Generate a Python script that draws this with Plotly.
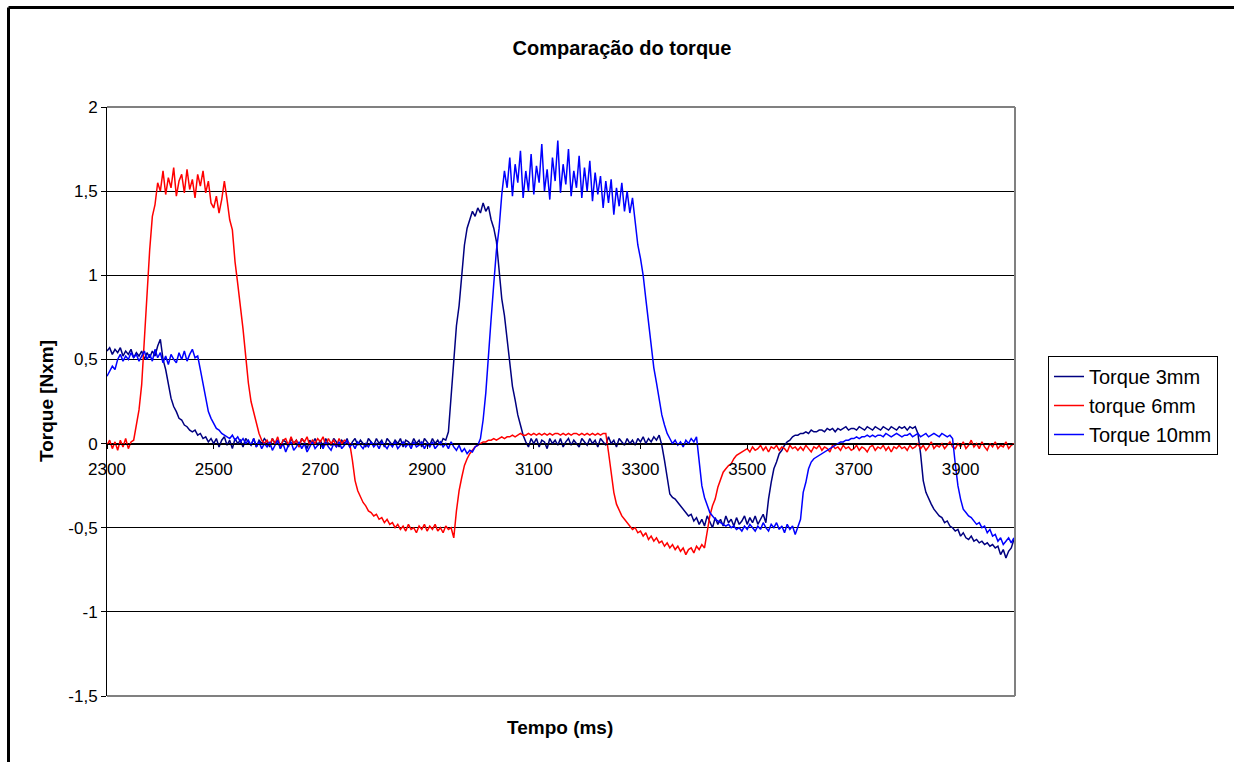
import plotly.graph_objects as go

# ---------------- data ----------------
TIME_MS = list(range(2300, 4001, 5))  # sampling grid, ms

TORQUE_3MM = [
    0.55, 0.57, 0.53, 0.56, 0.54, 0.57, 0.52, 0.55, 0.53, 0.56, 0.51, 0.54, 0.52, 0.55, 0.50, 0.54, 0.51, 0.55, 0.52, 0.58,
    0.62, 0.50, 0.44, 0.36, 0.27, 0.22, 0.19, 0.15, 0.14, 0.11, 0.10, 0.08, 0.07, 0.08, 0.05, 0.06, 0.03, 0.04, 0.01, 0.03,
    0.00, 0.03, -0.02, 0.02, 0.04, -0.01, 0.02, -0.03, 0.03, 0.00, 0.02, -0.02, 0.03, 0.01, -0.01, 0.03, -0.02, 0.02, 0.00, 0.03,
    0.01, -0.02, 0.03, 0.00, 0.02, -0.03, 0.02, 0.01, -0.02, 0.03, 0.00, 0.02, -0.02, 0.03, 0.01, -0.03, 0.02, 0.00, 0.03, -0.01,
    0.02, -0.02, 0.03, 0.00, -0.01, 0.03, 0.01, -0.02, 0.02, 0.00, 0.03, -0.02, 0.01, 0.03, -0.01, 0.02, 0.00, -0.02, 0.03, 0.01,
    -0.01, 0.03, 0.00, 0.02, -0.02, 0.03, 0.01, -0.01, 0.02, 0.00, 0.03, -0.02, 0.02, 0.01, -0.01, 0.03, 0.00, 0.02, -0.02, 0.03,
    0.01, -0.01, 0.03, 0.00, 0.02, -0.01, 0.03, 0.02, 0.07, 0.30, 0.52, 0.70, 0.82, 1.01, 1.18, 1.28, 1.33, 1.38, 1.35, 1.40,
    1.37, 1.43, 1.38, 1.41, 1.33, 1.28, 1.20, 1.02, 0.86, 0.76, 0.63, 0.48, 0.34, 0.26, 0.17, 0.11, 0.05, 0.01, -0.02, 0.03,
    0.00, 0.03, -0.02, 0.02, 0.01, -0.03, 0.03, 0.00, 0.02, -0.01, 0.03, -0.02, 0.01, 0.03, -0.01, 0.02, 0.00, -0.02, 0.03, 0.01,
    -0.01, 0.03, 0.00, 0.02, -0.02, 0.03, 0.01, -0.01, 0.04, 0.00, 0.02, -0.02, 0.03, 0.01, -0.01, 0.03, 0.00, 0.02, -0.01, 0.03,
    0.01, 0.04, 0.00, 0.03, 0.01, 0.04, 0.02, 0.05, -0.01, -0.10, -0.20, -0.30, -0.32, -0.33, -0.35, -0.37, -0.39, -0.41, -0.43, -0.42,
    -0.46, -0.44, -0.48, -0.45, -0.49, -0.43, -0.47, -0.50, -0.44, -0.48, -0.45, -0.49, -0.43, -0.47, -0.45, -0.49, -0.44, -0.48, -0.46, -0.43,
    -0.48, -0.44, -0.47, -0.43, -0.48, -0.45, -0.42, -0.47, -0.33, -0.23, -0.15, -0.11, -0.06, -0.04, -0.01, 0.01, 0.02, 0.04, 0.05, 0.05,
    0.06, 0.06, 0.07, 0.06, 0.08, 0.07, 0.07, 0.08, 0.08, 0.07, 0.09, 0.08, 0.09, 0.07, 0.09, 0.08, 0.09, 0.10, 0.08, 0.09,
    0.09, 0.08, 0.10, 0.09, 0.08, 0.10, 0.09, 0.08, 0.10, 0.09, 0.08, 0.10, 0.09, 0.08, 0.10, 0.09, 0.08, 0.10, 0.09, 0.10,
    0.08, 0.10, 0.09, 0.10, 0.06, -0.06, -0.22, -0.29, -0.33, -0.36, -0.39, -0.41, -0.43, -0.44, -0.47, -0.46, -0.49, -0.50, -0.52, -0.51,
    -0.55, -0.53, -0.56, -0.57, -0.55, -0.58, -0.57, -0.59, -0.58, -0.60, -0.59, -0.61, -0.60, -0.62, -0.61, -0.66, -0.63, -0.68, -0.64, -0.62,
    -0.57,
]

TORQUE_6MM = [
    -0.01, 0.02, -0.03, 0.01, -0.04, 0.02, -0.02, 0.03, -0.03, 0.01, 0.02, 0.10, 0.20, 0.35, 0.62, 0.90, 1.15, 1.35, 1.42, 1.55,
    1.50, 1.62, 1.48, 1.58, 1.52, 1.64, 1.47, 1.56, 1.60, 1.49, 1.63, 1.51, 1.57, 1.46, 1.60, 1.53, 1.62, 1.49, 1.56, 1.43,
    1.40, 1.47, 1.37, 1.45, 1.56, 1.45, 1.33, 1.27, 1.08, 0.95, 0.83, 0.68, 0.52, 0.36, 0.25, 0.19, 0.12, 0.06, 0.02, 0.00,
    0.02, -0.01, 0.03, 0.00, 0.04, -0.02, 0.02, 0.03, -0.01, 0.04, 0.00, 0.02, -0.02, 0.03, 0.01, 0.04, -0.01, 0.02, 0.00, 0.03,
    0.01, 0.04, -0.01, 0.03, 0.00, 0.02, -0.02, 0.03, 0.00, 0.02, 0.01, 0.00, -0.10, -0.22, -0.28, -0.32, -0.35, -0.37, -0.40, -0.41,
    -0.43, -0.42, -0.45, -0.44, -0.47, -0.45, -0.48, -0.47, -0.50, -0.48, -0.51, -0.49, -0.52, -0.48, -0.51, -0.50, -0.53, -0.49, -0.51, -0.48,
    -0.52, -0.49, -0.51, -0.48, -0.52, -0.50, -0.53, -0.49, -0.51, -0.50, -0.56, -0.40, -0.28, -0.20, -0.13, -0.09, -0.06, -0.04, -0.02, -0.01,
    0.00, 0.01, 0.01, 0.02, 0.02, 0.03, 0.02, 0.03, 0.04, 0.03, 0.04, 0.04, 0.05, 0.04, 0.05, 0.06, 0.05, 0.05, 0.06, 0.05,
    0.06, 0.05, 0.06, 0.05, 0.06, 0.05, 0.06, 0.05, 0.06, 0.06, 0.05, 0.06, 0.05, 0.06, 0.05, 0.06, 0.06, 0.05, 0.06, 0.05,
    0.06, 0.05, 0.06, 0.05, 0.06, 0.05, 0.06, 0.06, -0.05, -0.18, -0.29, -0.36, -0.40, -0.43, -0.45, -0.47, -0.49, -0.51, -0.50, -0.53,
    -0.52, -0.55, -0.53, -0.57, -0.55, -0.58, -0.56, -0.59, -0.58, -0.61, -0.59, -0.62, -0.60, -0.63, -0.61, -0.64, -0.62, -0.66, -0.63, -0.62,
    -0.65, -0.61, -0.63, -0.60, -0.62, -0.52, -0.43, -0.37, -0.33, -0.26, -0.21, -0.17, -0.15, -0.13, -0.12, -0.09, -0.07, -0.06, -0.05, -0.04,
    -0.03, -0.05, -0.02, -0.04, -0.03, -0.01, -0.04, -0.02, -0.05, -0.02, -0.03, -0.01, -0.04, -0.02, -0.03, -0.05, -0.01, -0.03, -0.02, -0.04,
    -0.02, -0.04, -0.01, -0.03, -0.05, -0.02, -0.03, -0.01, -0.04, -0.02, -0.03, -0.05, -0.01, -0.03, -0.02, -0.04, -0.01, -0.03, -0.02, -0.04,
    -0.03, -0.01, -0.04, -0.02, -0.03, -0.05, -0.02, -0.01, -0.04, -0.02, -0.03, -0.01, -0.04, -0.02, -0.05, -0.02, -0.03, -0.01, -0.03, -0.02,
    -0.04, -0.01, -0.03, -0.02, 0.00, -0.03, -0.01, -0.04, -0.02, 0.01, -0.03, -0.01, -0.02, 0.00, -0.03, -0.01, 0.01, -0.02, -0.03, 0.00,
    -0.02, 0.01, -0.03, -0.01, 0.02, -0.02, 0.00, -0.03, 0.01, -0.02, -0.04, 0.00, -0.02, 0.01, -0.03, -0.01, -0.02, 0.01, -0.03, -0.01,
    0.00,
]

TORQUE_10MM = [
    0.40, 0.43, 0.46, 0.44, 0.50, 0.53, 0.49, 0.52, 0.50, 0.54, 0.51, 0.53, 0.49, 0.52, 0.55, 0.50, 0.53, 0.49, 0.56, 0.51,
    0.54, 0.48, 0.52, 0.47, 0.53, 0.50, 0.48, 0.54, 0.50, 0.55, 0.49, 0.53, 0.56, 0.51, 0.52, 0.44, 0.36, 0.26, 0.19, 0.15,
    0.12, 0.09, 0.08, 0.06, 0.05, 0.04, 0.03, 0.05, 0.02, 0.04, 0.01, 0.03, 0.00, 0.02, -0.01, 0.03, -0.02, 0.01, -0.03, 0.00,
    -0.02, 0.01, -0.04, -0.01, 0.02, -0.03, 0.00, -0.05, -0.01, 0.01, -0.04, -0.02, 0.01, -0.03, 0.00, -0.05, -0.02, 0.01, -0.03, -0.01,
    0.00, -0.03, 0.01, -0.02, -0.04, 0.00, -0.02, 0.01, -0.03, -0.01, 0.02, -0.02, 0.00, -0.03, 0.01, -0.01, -0.03, 0.00, -0.02, 0.01,
    -0.02, 0.00, -0.03, 0.01, -0.01, -0.03, 0.00, -0.02, 0.01, -0.03, -0.01, 0.01, -0.02, 0.00, -0.03, 0.01, -0.02, -0.01, 0.01, -0.03,
    0.00, -0.02, 0.01, -0.03, -0.01, 0.01, -0.02, 0.00, -0.03, 0.01, -0.02, -0.04, -0.01, -0.05, -0.03, -0.06, -0.04, -0.05, -0.02, -0.01,
    0.03, 0.14, 0.30, 0.55, 0.74, 0.95, 1.15, 1.28, 1.48, 1.62, 1.52, 1.70, 1.47, 1.66, 1.55, 1.74, 1.46, 1.62, 1.50, 1.72,
    1.48, 1.65, 1.55, 1.78, 1.50, 1.63, 1.45, 1.70, 1.56, 1.80, 1.49, 1.66, 1.54, 1.75, 1.47, 1.62, 1.52, 1.71, 1.46, 1.64,
    1.50, 1.68, 1.44, 1.61, 1.48, 1.59, 1.40, 1.56, 1.43, 1.57, 1.36, 1.52, 1.41, 1.55, 1.38, 1.50, 1.37, 1.46, 1.33, 1.18,
    1.10, 1.00, 0.86, 0.72, 0.57, 0.45, 0.36, 0.26, 0.17, 0.11, 0.06, 0.03, 0.00, 0.02, -0.01, 0.01, -0.02, 0.02, 0.00, 0.03,
    0.01, 0.04, -0.10, -0.25, -0.32, -0.37, -0.41, -0.43, -0.45, -0.46, -0.47, -0.48, -0.49, -0.48, -0.50, -0.49, -0.51, -0.50, -0.52, -0.49,
    -0.51, -0.48, -0.50, -0.52, -0.49, -0.51, -0.47, -0.50, -0.52, -0.48, -0.50, -0.47, -0.51, -0.49, -0.53, -0.48, -0.51, -0.49, -0.54, -0.50,
    -0.45, -0.29, -0.23, -0.15, -0.11, -0.09, -0.08, -0.07, -0.06, -0.05, -0.04, -0.03, -0.02, -0.01, 0.00, 0.01, 0.01, 0.02, 0.02, 0.03,
    0.03, 0.04, 0.03, 0.04, 0.04, 0.05, 0.04, 0.05, 0.04, 0.05, 0.05, 0.04, 0.06, 0.05, 0.04, 0.05, 0.06, 0.05, 0.04, 0.05,
    0.05, 0.06, 0.04, 0.05, 0.06, 0.04, 0.05, 0.06, 0.04, 0.05, 0.06, 0.05, 0.04, 0.06, 0.05, 0.04, 0.05, 0.03, -0.12, -0.25,
    -0.33, -0.39, -0.41, -0.43, -0.44, -0.46, -0.48, -0.47, -0.50, -0.49, -0.53, -0.51, -0.55, -0.54, -0.58, -0.56, -0.60, -0.58, -0.56, -0.59,
    -0.56,
]

SERIES_NAMES = ["Torque 3mm", "torque 6mm", "Torque 10mm"]
SERIES_COLORS = ["#000080", "#FF0000", "#0000FF"]

X_TICKS = [2300, 2500, 2700, 2900, 3100, 3300, 3500, 3700, 3900]
Y_TICKS = [-1.5, -1.0, -0.5, 0.0, 0.5, 1.0, 1.5, 2.0]
Y_TICK_TEXT = ["-1,5", "-1", "-0,5", "0", "0,5", "1", "1,5", "2"]

TITLE = "Comparação do torque"
X_TITLE = "Tempo (ms)"
Y_TITLE = "Torque [Nxm]"

# ---------------- figure ----------------
FONT = "Arial, 'Liberation Sans', sans-serif"
W, H = 1234, 762
L, R, T, B = 107, 219, 107, 66
PW, PH = W - L - R, H - T - B


def px_x(px):
    return (px - L) / PW


def px_y(py):
    return (H - B - py) / PH


fig = go.Figure()
for name, color, vals in zip(SERIES_NAMES, SERIES_COLORS,
                             [TORQUE_3MM, TORQUE_6MM, TORQUE_10MM]):
    fig.add_trace(go.Scatter(x=TIME_MS, y=vals, mode="lines", name=name,
                             line=dict(color=color, width=1.5)))

y0_pos = (0 - Y_TICKS[0]) / (Y_TICKS[-1] - Y_TICKS[0])

fig.update_layout(
    width=W, height=H,
    margin=dict(l=L, r=R, t=T, b=B, pad=0),
    paper_bgcolor="white", plot_bgcolor="white",
    font=dict(family=FONT, color="black", size=17),
    title=dict(text="<b>" + TITLE + "</b>", x=622 / W, xanchor="center",
               y=1 - 48 / H, yanchor="middle",
               font=dict(family=FONT, size=20, color="black")),
    showlegend=True,
    legend=dict(x=px_x(1048), y=px_y(356), xanchor="left", yanchor="top",
                bgcolor="white", bordercolor="black", borderwidth=1,
                font=dict(family=FONT, size=20, color="black"),
                itemwidth=30, tracegroupgap=0),
    xaxis=dict(range=[2300, 4002], tickmode="array", tickvals=X_TICKS,
               ticktext=[str(v) for v in X_TICKS],
               anchor="free", position=y0_pos,
               showline=True, linecolor="black", linewidth=1,
               ticks="outside", ticklen=4, tickcolor="black",
               showgrid=False, zeroline=False,
               ticklabelstandoff=6,
               tickfont=dict(family=FONT, size=17, color="black")),
    yaxis=dict(range=[Y_TICKS[0], Y_TICKS[-1]], tickmode="array",
               tickvals=Y_TICKS, ticktext=Y_TICK_TEXT,
               showline=True, linecolor="black", linewidth=1,
               ticks="outside", ticklen=5, tickcolor="black",
               showgrid=True, gridcolor="black", gridwidth=1,
               zeroline=False,
               tickfont=dict(family=FONT, size=17, color="black")),
    annotations=[
        dict(text="<b>" + X_TITLE + "</b>", xref="paper", yref="paper",
             x=px_x(560), y=px_y(727), xanchor="center", yanchor="middle",
             showarrow=False, font=dict(family=FONT, size=19, color="black")),
        dict(text="<b>" + Y_TITLE + "</b>", xref="paper", yref="paper",
             x=px_x(46), y=px_y(401), xanchor="center", yanchor="middle",
             textangle=-90, showarrow=False,
             font=dict(family=FONT, size=19, color="black")),
    ],
    shapes=[
        # plot-area border (gray) top, right, bottom
        dict(type="line", xref="paper", yref="paper", x0=0, x1=1, y0=1, y1=1,
             line=dict(color="#808080", width=2), layer="above"),
        dict(type="line", xref="paper", yref="paper", x0=1, x1=1, y0=0, y1=1,
             line=dict(color="#808080", width=2), layer="above"),
        dict(type="line", xref="paper", yref="paper", x0=0, x1=1, y0=0, y1=0,
             line=dict(color="#808080", width=2), layer="above"),
        # chart-area border (black) top and left
        dict(type="line", xref="paper", yref="paper",
             x0=px_x(8.5), x1=px_x(1240), y0=px_y(7.5), y1=px_y(7.5),
             line=dict(color="black", width=3)),
        dict(type="line", xref="paper", yref="paper",
             x0=px_x(8.5), x1=px_x(8.5), y0=px_y(7.5), y1=px_y(770),
             line=dict(color="black", width=3)),
    ],
)

fig.write_html("out.html")
